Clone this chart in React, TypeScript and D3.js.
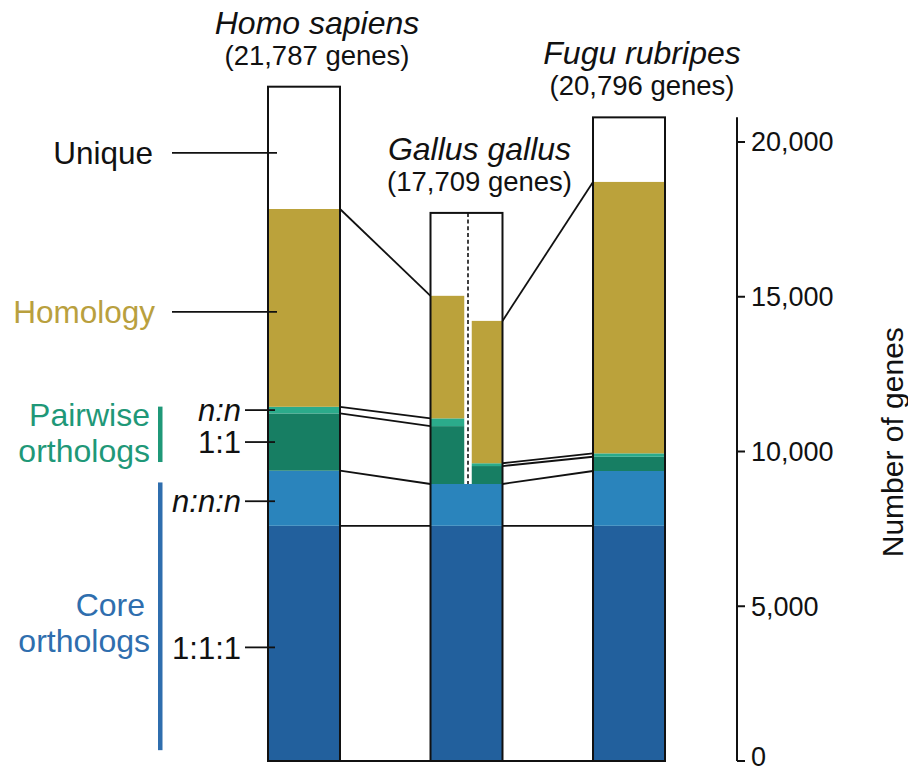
import React from "react";
import * as d3 from "d3";

// ---------- data ----------
const species = ["Homo sapiens", "Gallus gallus", "Fugu rubripes"];
const geneCountLabels = ["(21,787 genes)", "(17,709 genes)", "(20,796 genes)"];
const geneTotals = [21787, 17709, 20796];

const tickValues = [0, 5000, 10000, 15000, 20000];
const tickLabels = ["0", "5,000", "10,000", "15,000", "20,000"];

// stacked columns: Homo, Gallus (vs Homo), Gallus (vs Fugu), Fugu
const columnSpecies = [0, 1, 1, 2];
const core111 = [7600, 7600, 7600, 7600];
const coreNNN = [1780, 1350, 1350, 1770];
const pair11 = [1850, 1870, 580, 460];
const pairNN = [215, 250, 90, 110];
const homology = [6390, 3960, 4600, 8770];

const layerNames = ["1:1:1", "n:n:n", "1:1", "n:n", "Homology"];
const layerColors = ["#22609d", "#2a84bc", "#177e63", "#2bab8b", "#bba23b"];
const layerItalic = [false, true, false, true, false];

const pairwiseBracket = [9660, 11450];
const coreBracket = [350, 9000];

// ---------- layout ----------
const W = 908;
const H = 772;
const FONT = "'Liberation Sans', Arial, Helvetica, sans-serif";

export default function App() {
  const y = d3.scaleLinear().domain([0, 20000]).range([761, 142]);
  const x = d3
    .scaleBand<string>()
    .domain(species)
    .range([268, 665])
    .paddingInner(0.557)
    .paddingOuter(0);
  const bw = x.bandwidth();
  const axisX = 737;

  const layers = [core111, coreNNN, pair11, pairNN, homology];
  const stacks = columnSpecies.map((_, c) => {
    let acc = 0;
    return layers.map((arr) => {
      const y0 = acc;
      acc += arr[c];
      return [y0, acc];
    });
  });

  const gallusX = x(species[1])!;
  const gapC = gallusX + bw / 2 + 1.5;
  const colX = (c: number): [number, number] => {
    const sp = species[columnSpecies[c]];
    const x0 = x(sp)!;
    if (c === 1) return [x0, gapC - 3.5];
    if (c === 2) return [gapC + 3.5, x0 + bw];
    return [x0, x0 + bw];
  };
  const fullX = (c: number): [number, number] => {
    const x0 = x(species[columnSpecies[c]])!;
    return [x0, x0 + bw];
  };

  const rects: JSX.Element[] = [];
  stacks.forEach((st, c) => {
    st.forEach(([v0, v1], li) => {
      if (c === 2 && li < 2) return;
      const [x0, x1] = li < 2 ? fullX(c) : colX(c);
      rects.push(
        <rect
          key={`r${c}-${li}`}
          x={x0}
          y={y(v1)}
          width={x1 - x0}
          height={y(v0) - y(v1)}
          fill={layerColors[li]}
        />
      );
    });
  });

  const connectors: JSX.Element[] = [];
  const pairs: [number, number][] = [
    [0, 1],
    [2, 3],
  ];
  pairs.forEach(([a, b]) => {
    const xa = fullX(a)[1];
    const xb = fullX(b)[0];
    layers.forEach((_, li) => {
      connectors.push(
        <line
          key={`c${a}-${li}`}
          x1={xa}
          y1={y(stacks[a][li][1])}
          x2={xb}
          y2={y(stacks[b][li][1])}
          stroke="#111"
          strokeWidth={1.8}
        />
      );
    });
  });

  const homo = stacks[0];
  const mid = (r: number[]) => y((r[0] + r[1]) / 2);
  const uniqueMid = y((homo[4][1] + geneTotals[0]) / 2) + 5;

  const ratioLabels = [0, 1, 2, 3].map((li) => ({
    text: layerNames[li],
    italic: layerItalic[li],
    yy: mid(homo[li]) + (li === 0 ? 4 : li === 1 ? 3 : 0),
  }));

  const tealColor = "#1f9878";
  const blueColor = "#2f6eae";
  const goldColor = "#b9a03e";

  return (
    <svg
      width={W}
      height={H}
      style={{ position: "absolute", left: 0, top: 0, background: "#fff" }}
      fontFamily={FONT}
    >
      <rect width={W} height={H} fill="#fff" />
      {rects}
      <rect
        x={gapC - 3.5}
        y={y(geneTotals[1])}
        width={7}
        height={y(stacks[1][1][1]) - y(geneTotals[1])}
        fill="#fff"
      />
      <line
        x1={gapC}
        x2={gapC}
        y1={y(geneTotals[1])}
        y2={y(stacks[1][1][1])}
        stroke="#111"
        strokeWidth={1.6}
        strokeDasharray="4 2.7"
      />
      {connectors}
      <line x1={x(species[0])!} x2={x(species[2])! + bw} y1={y(0)} y2={y(0)} stroke="#111" strokeWidth={2} />
      {species.map((s, i) => (
        <rect
          key={`o${i}`}
          x={x(s)!}
          y={y(geneTotals[i])}
          width={bw}
          height={y(0) - y(geneTotals[i])}
          fill="none"
          stroke="#111"
          strokeWidth={2}
        />
      ))}
      {species.map((s, i) => {
        const cx = x(s)! + bw / 2 + 13;
        const top = y(geneTotals[i]);
        return (
          <g key={`t${i}`}>
            <text x={cx} y={top - 53} textAnchor="middle" fontSize={32} fontStyle="italic" fill="#111">
              {s}
            </text>
            <text x={cx} y={top - 22} textAnchor="middle" fontSize={27.5} fill="#111">
              {geneCountLabels[i]}
            </text>
          </g>
        );
      })}
      <line x1={axisX} x2={axisX} y1={y(geneTotals[2])} y2={y(0)} stroke="#111" strokeWidth={2} />
      {tickValues.map((v, i) => (
        <g key={`k${i}`}>
          <line x1={axisX} x2={axisX + 8} y1={y(v)} y2={y(v)} stroke="#111" strokeWidth={2} />
          <text x={axisX + 14} y={y(v) - (v === 0 ? 4 : 0)} dy="0.35em" fontSize={27} fill="#111">
            {tickLabels[i]}
          </text>
        </g>
      ))}
      <text
        transform={`translate(${903},${y(10300)}) rotate(-90)`}
        textAnchor="middle"
        fontSize={30}
        fill="#111"
      >
        Number of genes
      </text>
      <text x={153} y={uniqueMid} dy="0.36em" textAnchor="end" fontSize={31.5} fill="#111">
        Unique
      </text>
      <line x1={172} x2={277} y1={uniqueMid} y2={uniqueMid} stroke="#111" strokeWidth={1.8} />
      <text x={155} y={mid(homo[4]) + 4} dy="0.36em" textAnchor="end" fontSize={31.5} fill={goldColor}>
        Homology
      </text>
      <line x1={172} x2={277} y1={mid(homo[4]) + 4} y2={mid(homo[4]) + 4} stroke="#111" strokeWidth={1.8} />
      {ratioLabels.map((r, i) => (
        <g key={`l${i}`}>
          <text
            x={241}
            y={r.yy}
            dy="0.36em"
            textAnchor="end"
            fontSize={31}
            fontStyle={r.italic ? "italic" : "normal"}
            fill="#111"
          >
            {r.text}
          </text>
          <line x1={245} x2={275} y1={r.yy} y2={r.yy} stroke="#111" strokeWidth={1.8} />
        </g>
      ))}
      <rect x={158} y={y(pairwiseBracket[1])} width={4.5} height={y(pairwiseBracket[0]) - y(pairwiseBracket[1])} fill={tealColor} />
      <rect x={158} y={y(coreBracket[1])} width={4.5} height={y(coreBracket[0]) - y(coreBracket[1])} fill={blueColor} />
      <text x={150} y={y((pairwiseBracket[0] + pairwiseBracket[1]) / 2)} textAnchor="end" fontSize={32} fill={tealColor}>
        <tspan x={150} dy="-0.25em">Pairwise</tspan>
        <tspan x={150} dy="1.1em">orthologs</tspan>
      </text>
      <text x={150} y={y((coreBracket[0] + coreBracket[1]) / 2) + 8} textAnchor="end" fontSize={32} fill={blueColor}>
        <tspan x={145} dy="-0.25em">Core</tspan>
        <tspan x={150} dy="1.1em">orthologs</tspan>
      </text>
    </svg>
  );
}
